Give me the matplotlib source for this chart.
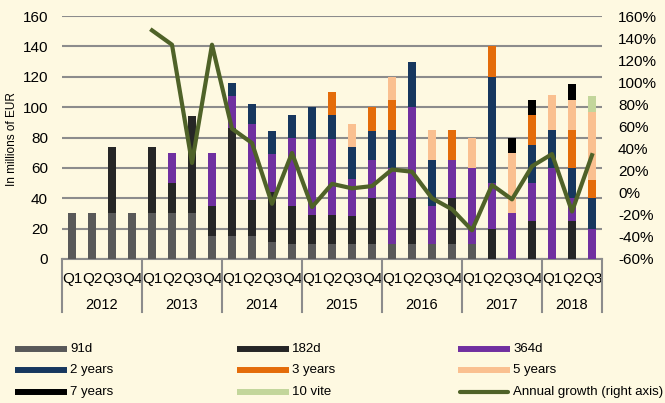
import numpy as np
import matplotlib
matplotlib.use("Agg")
import matplotlib.pyplot as plt
import matplotlib.transforms as mtransforms
from matplotlib.lines import Line2D

plt.rcParams['font.family'] = ['Liberation Sans', 'DejaVu Sans']

W, H = 665, 403
BG = '#FEF9E1'
GRID = '#8C8C8C'

years = ['2012', '2013', '2014', '2015', '2016', '2017', '2018']
quarters_per_year = [4, 4, 4, 4, 4, 4, 3]
quarter_labels = ['Q1', 'Q2', 'Q3', 'Q4'] * 6 + ['Q1', 'Q2', 'Q3']

# Issued amounts by maturity, millions of EUR (2012 Q1 .. 2018 Q3)
d91 = [30, 30, 30, 30, 30, 30, 30, 15, 15, 15, 11, 10, 10, 10, 10, 10,
       10, 10, 10, 10, 10, 0, 0, 0, 0, 0, 0]
d182 = [0, 0, 44, 0, 44, 20, 64, 20, 71, 24, 33, 25, 19, 19, 18, 30,
        0, 30, 0, 30, 0, 20, 0, 25, 0, 25, 0]
d364 = [0, 0, 0, 0, 0, 20, 0, 35, 21, 50, 25, 45, 50, 50, 25, 25,
        50, 60, 25, 25, 50, 30, 30, 25, 60, 15, 20]
y2 = [0, 0, 0, 0, 0, 0, 0, 0, 9, 13, 15, 15, 21, 16, 21, 19,
      25, 30, 30, 0, 0, 70, 0, 25, 25, 20, 20]
y3 = [0, 0, 0, 0, 0, 0, 0, 0, 0, 0, 0, 0, 0, 15, 0, 16,
      20, 0, 0, 20, 0, 20, 0, 20, 0, 25, 12]
y5 = [0, 0, 0, 0, 0, 0, 0, 0, 0, 0, 0, 0, 0, 0, 15, 0,
      15, 0, 20, 0, 20, 0, 40, 0, 23, 20, 45]
y7 = [0, 0, 0, 0, 0, 0, 0, 0, 0, 0, 0, 0, 0, 0, 0, 0,
      0, 0, 0, 0, 0, 0, 10, 10, 0, 10, 0]
y10 = [0, 0, 0, 0, 0, 0, 0, 0, 0, 0, 0, 0, 0, 0, 0, 0,
       0, 0, 0, 0, 0, 0, 0, 0, 0, 0, 10]

# Annual growth, percent (right axis)
growth = [np.nan, np.nan, np.nan, np.nan, 147, 134, 27, 134,
          58, 45, -10, 36, -13, 8, 4, 6, 21, 19, -5, -15,
          -34, 7, -6, 24, 35, -17, 34]

series = [
    ('91d', d91, '#595959'),
    ('182d', d182, '#262626'),
    ('364d', d364, '#7030A0'),
    ('2 years', y2, '#17375E'),
    ('3 years', y3, '#E46C0A'),
    ('5 years', y5, '#FAC090'),
    ('7 years', y7, '#000000'),
    ('10 vite', y10, '#C3D69B'),
]
LINE_COLOR = '#4F6228'
growth_label = 'Annual growth (right axis)'

n = len(quarter_labels)
x = np.arange(n)

fig = plt.figure(figsize=(W / 100, H / 100), dpi=100, facecolor=BG)
ax = fig.add_axes([62 / W, 144 / H, 540 / W, 243 / H])
ax.set_facecolor(BG)

bottom = np.zeros(n)
for label, vals, color in series:
    vals = np.array(vals, dtype=float)
    ax.bar(x, vals, 0.4, bottom=bottom, color=color, zorder=3, linewidth=0)
    bottom += vals

ax.set_xlim(-0.5, n - 0.5)
ax.set_ylim(0, 160)
ax.set_yticks(np.arange(0, 161, 20))
ax.yaxis.grid(True, color=GRID, linewidth=1.5)
ax.set_axisbelow(True)
for s in ['top', 'right', 'left']:
    ax.spines[s].set_visible(False)
ax.spines['bottom'].set_color(GRID)
ax.spines['bottom'].set_linewidth(1.5)
ax.tick_params(axis='y', length=0, pad=10, labelsize=11, colors='#000000')
ax.set_xticks(x, quarter_labels)
ax.tick_params(axis='x', length=0, pad=9, labelsize=11)

# Year labels and separators of the category axis
trans = mtransforms.blended_transform_factory(ax.transData, ax.transAxes)
sep_bottom = (259 - 312) / 243
start = 0
bounds = [-0.5]
for yr, nq in zip(years, quarters_per_year):
    center = start + (nq - 1) / 2
    ax.text(center, -0.19, yr, transform=trans, ha='center', va='center',
            fontsize=10.5)
    start += nq
    bounds.append(start - 0.5)
for b in bounds:
    ax.plot([b, b], [0, sep_bottom], transform=trans, color=GRID,
            linewidth=1.5, clip_on=False, zorder=1)

ax2 = ax.twinx()
ax2.plot(x, growth, color=LINE_COLOR, linewidth=3, zorder=5)
ax2.set_ylim(-60, 160)
ax2.set_yticks(np.arange(-60, 161, 20))
ax2.set_yticklabels([f'{v}%' for v in range(-60, 161, 20)])
for s in ax2.spines.values():
    s.set_visible(False)
ax2.tick_params(axis='y', length=0, pad=11.5, labelsize=11)

fig.text(12.5 / W, 1 - 139 / H, 'In millions of EUR', rotation=90,
         ha='center', va='center', fontsize=8.5)

# Legend in three rows, three columns
entries = [(lab, col, 'bar') for lab, _, col in series]
entries.insert(8, (growth_label, LINE_COLOR, 'line'))
col_x = [15, 237, 458]
row_y = [349, 370, 392]
for i, (lab, col, kind) in enumerate(entries):
    cx = col_x[i % 3]
    cy = 1 - row_y[i // 3] / H
    if kind == 'bar':
        fig.add_artist(Line2D([cx / W, (cx + 52) / W], [cy, cy],
                              transform=fig.transFigure, color=col,
                              linewidth=4.3, solid_capstyle='butt'))
    else:
        fig.add_artist(Line2D([(cx + 2) / W, (cx + 50) / W], [cy, cy],
                              transform=fig.transFigure, color=col,
                              linewidth=3, solid_capstyle='round'))
    fig.text((cx + 55) / W, cy, lab, ha='left', va='center', fontsize=9.5)

fig.savefig('out.png', dpi=100, facecolor=BG)
